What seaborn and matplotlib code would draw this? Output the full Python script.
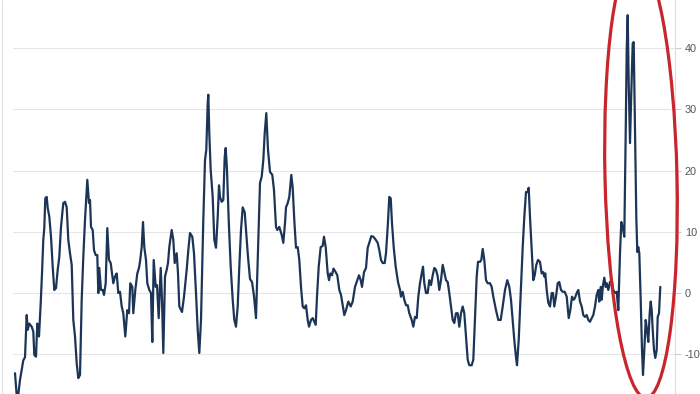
import matplotlib
matplotlib.use("Agg")
import matplotlib.pyplot as plt
from matplotlib.patches import Ellipse
from matplotlib.lines import Line2D
import seaborn as sns
import pandas as pd

# ---- data ----
period = [
    15, 17.3, 20, 23.3, 25, 26.7, 27.7, 29.3, 31.7, 33.3, 34.3, 36, 37.3, 39, 40.7, 42, 43.3, 44.3, 45.3, 46.7,
    47.7, 49.3, 51, 52.7, 54.3, 56, 57.7, 59.3, 61, 63.3, 65, 66.7, 68.3, 70, 71.7, 73.3, 75, 76.7, 78.3, 80,
    81.7, 83.3, 85, 87.3, 89, 90, 91, 92.7,
    94, 95.7, 97.3, 98.3, 99.3, 101, 102.7, 104, 105.7, 107.3, 109, 110.7, 113.3, 115, 116.7, 118.3, 120, 121.7,
    123.3, 125.3, 127.3, 129, 130.3, 132.3, 133.3, 135.3, 137.3, 139, 140, 141.7, 143, 144.3, 146, 147.3, 149.3,
    151, 152.3, 153.7, 155.7, 157, 158.7, 160.7, 162, 163.3, 165, 166.7, 168, 169.3,
    171.7, 173.3, 174.7, 176.7, 178, 179.3, 182, 184, 186.7, 188.3, 190, 192.3, 194, 196, 197.7, 199.3, 201,
    203.3, 205, 206.3, 207.7, 208.3, 209.3, 210.7, 212.7, 214.3, 216, 217.7, 219, 220, 221.7, 223.3, 224.7,
    225.7, 227, 228.7, 230.7, 232.7, 234.3, 236, 237.7, 239.3, 241, 242.7, 244.7, 246, 248,
    250, 252, 254, 256, 258, 260, 261.7, 263.3, 264.7, 266.3, 268, 270, 272.3, 274, 276, 277.3, 279.3, 281.7,
    283.3, 285, 286, 287.7, 289.3, 291.3, 292.7, 294.3, 296, 297.7, 299.3, 301, 302.7, 304.3, 306, 307.7, 309,
    311, 312.7, 314.3, 315.7, 317, 318.7, 320.7, 322.7, 324, 325.7, 327.7, 329,
    330.3, 332, 333.5, 335.7, 337.3, 339.3, 341, 342.7, 344.3, 346, 348.3, 350.7, 352.7, 355, 356.7, 359, 360.7,
    362, 364, 366, 367.7, 369.3, 371.3, 373.3, 375.7, 377.7, 379.3, 381, 382.7, 384.7, 386, 387.7, 389.3, 390.7,
    392, 393.7, 395.7, 398, 400, 401, 402.7, 404.3, 406, 407.7, 409.3,
    411.7, 413.3, 415, 416.7, 418.3, 420, 421.7, 423, 424.3, 426, 427.7, 429.3, 431, 432.7, 434.3, 436, 437.7,
    439.3, 441, 442.7, 444.3, 446, 447.7, 449.3, 451, 452.7, 454.3, 456, 457.7, 459.3, 461, 462.7, 464.3, 466,
    467.7, 469.3, 471.7, 473.3, 475, 476.7, 478, 480, 481.3, 482.7, 484.3, 486, 487.7,
    490, 491.7, 493.3, 496, 498.3, 500.7, 502.7, 505, 507.3, 509.3, 511, 512.7, 514.3, 516, 517, 518.7, 520.7,
    522.7, 524.3, 526, 527.7, 528.7, 530, 531.7, 533.3, 534.7, 536.3, 538, 540, 541.7, 543.3, 544.3, 545.3,
    546.7, 548.3, 550, 551.7, 553, 554.3, 556, 557.7, 559.3, 561, 562.7, 564.7, 566.7, 568.7,
    570.3, 572, 573.7, 575, 576.7, 578.3, 580, 581.7, 583.3, 585, 586.7, 588.3, 590, 591.7, 593.3, 595, 596.7,
    598.3, 599.3, 600.7, 601.7, 603, 604.3, 605.7, 606.7, 608.3, 610, 611.7, 613.3, 615, 616.7, 618.3, 620,
    621.3, 622.7, 624.3, 625.7, 626.7, 627.7, 628.7, 630, 631.3, 632.7, 633.7, 635, 636.3, 637.3, 638.3, 639.3,
    640.7, 642, 643, 644.3, 645.7, 647, 648.3, 649.7, 650.7, 651.7, 652.7, 654, 655.3, 656.7, 657.7, 659, 660.3,
]
values = [
    -13.1, -18, -14.2, -11, -10.5, -3.6, -6, -5, -5.5, -6.3, -10.1, -10.4, -5, -7.1, -1.7, 3.2, 8.7, 10.6, 15.5, 15.7,
    13.9, 12.5, 9.2, 4.3, 0.5, 0.8, 3.8, 5.9, 10.8, 14.7, 14.9, 14, 8.7, 6.5, 4.6, -4.4, -7.1, -11.5, -13.9, -13.4,
    -1.1, 5.9, 11.9, 18.5, 14.7, 15.2, 10.8, 10.3,
    7, 6.2, 6.2, 0, 4.1, 0.5, 0.5, -0.3, 1.6, 10.6, 5.4, 4.9, 1.6, 2.7, 3.2, 0, 0.2, -2.2,
    -3.3, -7.1, -2.8, -3.3, 1.6, 1, -3.3, 0.5, 3.2, 4.1, 5.1, 7.5, 11.6, 7.5, 5.4, 1.6, 0.5,
    0, -8, 5.4, 1, 1.3, -4.1, 4.1, -1.1, -9.8, 2.7, 3.8, 4.9, 7.5,
    10.3, 8.7, 4.9, 6.5, 3.2, -2.2, -3.1, -0.6, 3.8, 7, 9.8, 9.2, 6.5, 0, -6, -9.8, -4.4,
    11.9, 21.7, 23.4, 31, 32.4, 26.1, 20.1, 15.7, 8.7, 7.4, 12.4, 17.6, 15.7, 14.9, 15.2, 22.2,
    23.7, 20.1, 11.9, 4.3, -1.1, -4.4, -5.5, -2.2, 4.3, 10.3, 14, 13.2, 10.3, 5.9,
    2.3, 1.8, -0.5, -4.1, 7, 18, 19, 21.7, 26.1, 29.4, 23.4, 19.8, 19.3, 16.8, 10.8, 10.3, 10.8, 9.5,
    8.2, 11.4, 14, 14.7, 15.7, 19.3, 17.2, 11.9, 7.4, 7.5, 5.4, 1, -2.2, -2.5, -2, -4.4, -5.5,
    -4.4, -4.1, -4.7, -5.2, -0.6, 4.3, 7.5, 7.7, 9.2, 7.5, 3.2, 2.1,
    3.2, 2.9, 4, 3.4, 2.9, 0.5, -0.3, -2, -3.6, -2.8, -1.4, -2.2, -1.4, 1, 1.8, 2.9, 2.1,
    1, 3.4, 4.1, 7.4, 8.2, 9.3, 9.2, 8.7, 8.2, 7, 5.4, 4.9, 4.9, 6.5, 10.8, 15.7, 15.5,
    11.4, 7.5, 4.3, 1.8, 0.5, -0.6, 0.2, -1.1, -2, -2, -3.3,
    -4.4, -5.5, -3.9, -4.1, -0.6, 1.6, 3.2, 4.3, 1.6, 0, 0, 2.1, 1.3, 2.9, 4.1, 3.8, 2.7,
    0.5, 2.1, 4.6, 3.4, 2.1, 1.8, 0, -2.2, -4.4, -4.9, -3.3, -3.3, -5.5, -3.3, -2.2, -3.3, -7.1,
    -10.9, -11.8, -11.8, -10.9, -3.9, 2.7, 5.1, 5.1, 5.4, 7.2, 5.4, 2.1, 1.6,
    1.6, 1, -0.6, -2.8, -4.4, -4.4, -2.2, 0.5, 2.1, 1, -1.1, -4.4, -7.7, -10.5, -11.8, -7.7, 0,
    7.5, 12.4, 16.5, 16.5, 17.2, 12.4, 7, 2.1, 2.9, 4.6, 5.4, 5.1, 3.2, 3.4, 2.7, 3.2,
    0.5, -1.6, -2.2, 0, 0, -2.2, -0.6, 1.6, 1.8, 0.5, 0.2, 0.2, -0.6, -4.1,
    -2.8, -0.6, -1.1, -0.8, 0, 0.5, -1.4, -2.2, -3.6, -3.9, -3.6, -4.4, -4.7, -4.1, -3.6, -2.2, -0.3,
    0.5, -1.4, 1, -1.1, 1.3, 2.5, 1, 1.6, 0.5, 1.8, 2.1, 0.5, 0, 0.2, -2.8, 6.5,
    11.6, 10.8, 9.2, 26.1, 39.7, 45.4, 34.3, 24.5, 32.7, 40.8, 41, 26.1, 12.4, 6.7, 7.5, 6.5,
    -1.1, -9.3, -13.4, -9.3, -4.4, -6, -8, -3.3, -1.4, -2.8, -6, -9.3, -10.6, -9.3, -3.9, -3.3, 1,
]
y_ticks = [-10, 0, 10, 20, 30, 40]
y_tick_labels = ["-10", "0", "10", "20", "30", "40"]

df = pd.DataFrame({"period": period, "value": values})

# ---- style ----
sns.set_style("white")
plt.rcParams["font.family"] = ["Liberation Sans", "DejaVu Sans"]
plt.rcParams["axes.unicode_minus"] = False

W, H = 700, 394
fig = plt.figure(figsize=(W / 100, H / 100), dpi=100)
fig.patch.set_facecolor("white")

ax = fig.add_axes([13 / W, 0, (675 - 13) / W, 1])
ax.set_facecolor("white")

sns.lineplot(data=df, x="period", y="value", ax=ax, color="#1c3557",
             linewidth=1.6, estimator=None, sort=False, zorder=3)

ax.set_xlim(13, 675)
ax.set_ylim(-16.5, 47.88)
ax.set_yticks(y_ticks)
ax.set_yticklabels(y_tick_labels)
ax.yaxis.tick_right()
ax.tick_params(axis="y", which="both", length=4, width=0.8, color="#cccccc",
               labelsize=7.8, labelcolor="#555555", pad=3, left=False, right=True)
ax.tick_params(axis="x", bottom=False, labelbottom=False)
ax.set_xlabel("")
ax.set_ylabel("")
ax.grid(axis="y", color="#e6e6e6", linewidth=0.8, zorder=0)
ax.grid(axis="x", visible=False)
for s in ["left", "top", "bottom"]:
    ax.spines[s].set_visible(False)
ax.spines["right"].set_color("#dddddd")
ax.spines["right"].set_linewidth(0.8)

# ---- overlay annotations in pixel coordinates ----
ov = fig.add_axes([0, 0, 1, 1], zorder=10)
ov.set_xlim(0, W)
ov.set_ylim(H, 0)
ov.axis("off")
ov.patch.set_alpha(0)
ov.add_line(Line2D([2, 2], [0, H], color="#e4e4e4", linewidth=0.8))
ov.add_patch(Ellipse((641, 177), 72, 442, angle=-1.3, fill=False,
                     edgecolor="#c9252c", linewidth=2.3))

fig.savefig("out.png", dpi=100)
